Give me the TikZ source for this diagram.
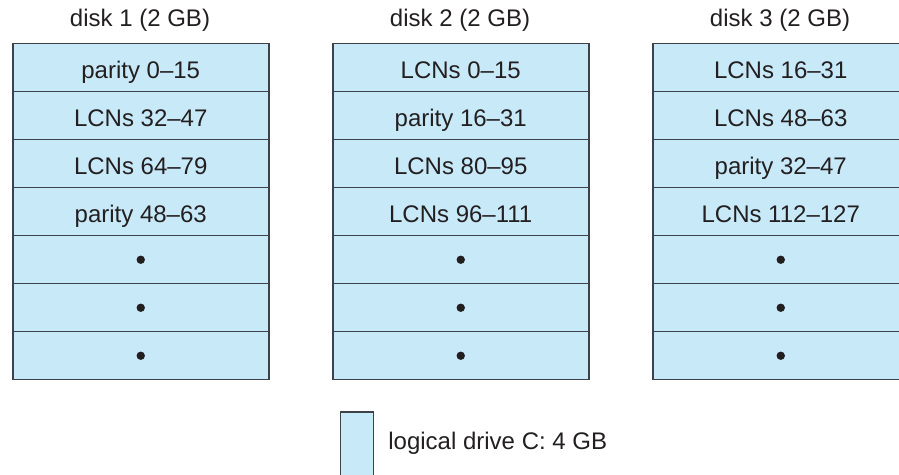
\documentclass[tikz,border=0pt]{standalone}
\usepackage{fontspec}
\setmainfont{Liberation Sans}
\definecolor{cellfill}{HTML}{C8E9F8}
\definecolor{cellline}{HTML}{3C4248}
\definecolor{txt}{HTML}{231F20}
\tikzset{
  cell/.style={draw=cellline, fill=cellfill, line width=0.75pt, minimum width=128pt, minimum height=24pt, inner sep=0pt, text height=10.6pt, text depth=0pt, anchor=north west, text=txt, font=\fontsize{12}{14}\selectfont},
  head/.style={text=txt, font=\fontsize{12}{14}\selectfont, inner sep=0pt},
  dotc/.style={circle, fill=txt, minimum size=4.2pt, inner sep=0pt}
}
\begin{document}
\begin{tikzpicture}[x=0.5pt, y=-0.5pt]
\useasboundingbox (0,0) rectangle (899,475);
\clip (0,0) rectangle (899,475);
% disk 1
\node[head] (h1) at (140,20) {disk 1 (2 GB)};
\node[cell] (a1) at (12,43) {parity 0–15};
\node[cell] (a2) at (12,91) {LCNs 32–47};
\node[cell] (a3) at (12,139) {LCNs 64–79};
\node[cell] (a4) at (12,187) {parity 48–63};
\node[cell] (a5) at (12,235) {};
\node[cell] (a6) at (12,283) {};
\node[cell] (a7) at (12,331) {};
\node[dotc] (ad5) at (a5.center) {};
\node[dotc] (ad6) at (a6.center) {};
\node[dotc] (ad7) at (a7.center) {};
% disk 2
\node[head] (h2) at (460,20) {disk 2 (2 GB)};
\node[cell] (b1) at (332,43) {LCNs 0–15};
\node[cell] (b2) at (332,91) {parity 16–31};
\node[cell] (b3) at (332,139) {LCNs 80–95};
\node[cell] (b4) at (332,187) {LCNs 96–111};
\node[cell] (b5) at (332,235) {};
\node[cell] (b6) at (332,283) {};
\node[cell] (b7) at (332,331) {};
\node[dotc] (bd5) at (b5.center) {};
\node[dotc] (bd6) at (b6.center) {};
\node[dotc] (bd7) at (b7.center) {};
% disk 3
\node[head] (h3) at (780,20) {disk 3 (2 GB)};
\node[cell] (c1) at (652,43) {LCNs 16–31};
\node[cell] (c2) at (652,91) {LCNs 48–63};
\node[cell] (c3) at (652,139) {parity 32–47};
\node[cell] (c4) at (652,187) {LCNs 112–127};
\node[cell] (c5) at (652,235) {};
\node[cell] (c6) at (652,283) {};
\node[cell] (c7) at (652,331) {};
\node[dotc] (cd5) at (c5.center) {};
\node[dotc] (cd6) at (c6.center) {};
\node[dotc] (cd7) at (c7.center) {};
% legend
\node[cell, minimum width=16.5pt, minimum height=36pt] (leg) at (339.5,411.5) {};
\node[head, anchor=west] (legt) at (388,443) {logical drive C: 4 GB};
\end{tikzpicture}
\end{document}
